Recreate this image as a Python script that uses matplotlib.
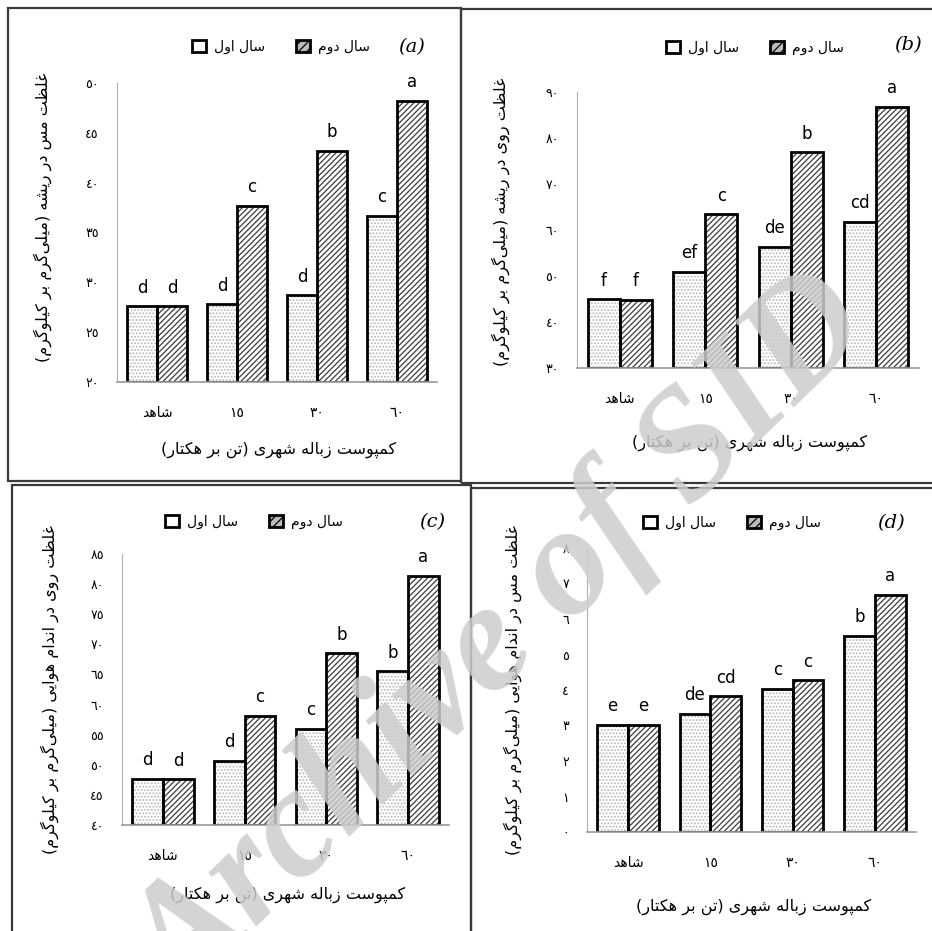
import numpy as np
import matplotlib
matplotlib.use("Agg")
import matplotlib.pyplot as plt
from matplotlib.patches import Rectangle, Patch
from matplotlib.ticker import FuncFormatter

# ============================================================
# data
# ============================================================
categories = ["شاهد", "١٥", "٣٠", "٦٠"]
series_names = ["سال اول", "سال دوم"]
xlabel = "کمپوست زباله شهری (تن بر هکتار)"

a_y1 = [27.6, 27.8, 28.7, 36.7]
a_y2 = [27.6, 37.7, 43.2, 48.2]
a_let1 = ["d", "d", "d", "c"]
a_let2 = ["d", "c", "b", "a"]
a_ylabel = "غلظت مس در ریشه (میلی\u200cگرم بر کیلوگرم)"
a_ticks = [20, 25, 30, 35, 40, 45, 50]

b_y1 = [44.9, 50.9, 56.3, 61.7]
b_y2 = [44.8, 63.4, 76.9, 86.7]
b_let1 = ["f", "ef", "de", "cd"]
b_let2 = ["f", "c", "b", "a"]
b_ylabel = "غلظت روی در ریشه (میلی\u200cگرم بر کیلوگرم)"
b_ticks = [30, 40, 50, 60, 70, 80, 90]

c_y1 = [47.7, 50.6, 56.0, 65.5]
c_y2 = [47.6, 58.1, 68.5, 81.4]
c_let1 = ["d", "d", "c", "b"]
c_let2 = ["d", "c", "b", "a"]
c_ylabel = "غلظت روی در اندام هوایی (میلی\u200cگرم بر کیلوگرم)"
c_ticks = [40, 45, 50, 55, 60, 65, 70, 75, 80, 85]

d_y1 = [3.02, 3.32, 4.04, 5.53]
d_y2 = [3.01, 3.82, 4.27, 6.67]
d_let1 = ["e", "de", "c", "b"]
d_let2 = ["e", "cd", "c", "a"]
d_ylabel = "غلظت مس در اندام هوایی (میلی\u200cگرم بر کیلوگرم)"
d_ticks = [0, 1, 2, 3, 4, 5, 6, 7, 8]

# ============================================================
# simple arabic shaping (matplotlib has no complex text layout)
# ============================================================
FORMS = {
    "\u0627": ("\uFE8D", "\uFE8E", None, None),
    "\u062F": ("\uFEA9", "\uFEAA", None, None),
    "\u0631": ("\uFEAD", "\uFEAE", None, None),
    "\u0632": ("\uFEAF", "\uFEB0", None, None),
    "\u0648": ("\uFEED", "\uFEEE", None, None),
    "\u0628": ("\uFE8F", "\uFE90", "\uFE91", "\uFE92"),
    "\u067E": ("\uFB56", "\uFB57", "\uFB58", "\uFB59"),
    "\u062A": ("\uFE95", "\uFE96", "\uFE97", "\uFE98"),
    "\u0633": ("\uFEB1", "\uFEB2", "\uFEB3", "\uFEB4"),
    "\u0634": ("\uFEB5", "\uFEB6", "\uFEB7", "\uFEB8"),
    "\u0638": ("\uFEC5", "\uFEC6", "\uFEC7", "\uFEC8"),
    "\u063A": ("\uFECD", "\uFECE", "\uFECF", "\uFED0"),
    "\u0644": ("\uFEDD", "\uFEDE", "\uFEDF", "\uFEE0"),
    "\u0645": ("\uFEE1", "\uFEE2", "\uFEE3", "\uFEE4"),
    "\u0646": ("\uFEE5", "\uFEE6", "\uFEE7", "\uFEE8"),
    "\u0647": ("\uFEE9", "\uFEEA", "\uFEEB", "\uFEEC"),
    "\u06CC": ("\uFBFC", "\uFBFD", "\uFBFE", "\uFBFF"),
    "\u06A9": ("\uFB8E", "\uFB8F", "\uFB90", "\uFB91"),
    "\u06AF": ("\uFB92", "\uFB93", "\uFB94", "\uFB95"),
}


def fa(s):
    if not any(ch in FORMS for ch in s):
        return s
    out = []
    for i, ch in enumerate(s):
        if ch == "\u200c":
            continue
        if ch not in FORMS:
            out.append(ch)
            continue
        f = FORMS[ch]
        prev = s[i - 1] if i > 0 else ""
        nxt = s[i + 1] if i + 1 < len(s) else ""
        jp = prev in FORMS and FORMS[prev][2] is not None
        jn = f[2] is not None and nxt in FORMS
        if jp and jn:
            out.append(f[3])
        elif jp:
            out.append(f[1])
        elif jn:
            out.append(f[2])
        else:
            out.append(f[0])
    vis = "".join(reversed(out))
    return vis.translate(str.maketrans("()", ")("))


def ar_digits(v, pos=None):
    return str(int(v)).translate(str.maketrans("0123456789", "٠١٢٣٤٥٦٧٨٩"))


# ============================================================
# figure
# ============================================================
W, H = 932, 931
fig = plt.figure(figsize=(W / 100, H / 100), dpi=100)
plt.rcParams["hatch.linewidth"] = 0.9


def fx(x):
    return x / W


def fy(y):
    return 1 - y / H


# panel frames (pixel boxes)
for x0, y0, x1, y1 in [(8, 8, 461, 481), (461, 9, 945, 483),
                       (12, 485, 471, 945), (471, 488, 945, 945)]:
    fig.add_artist(Rectangle((fx(x0), fy(y1)), fx(x1 - x0), (y1 - y0) / H,
                             transform=fig.transFigure, fill=False,
                             edgecolor="#3a3a3a", linewidth=1.6))

panels = [
    # y1, y2, letters1, letters2, ylabel, ticks, axes box, ylab pos, legend pos, tag, tag pos, xlab y
    (a_y1, a_y2, a_let1, a_let2, a_ylabel, a_ticks, (117, 83, 437, 382), (43, 217), (281, 47), "(a)", (412, 47), 450),
    (b_y1, b_y2, b_let1, b_let2, b_ylabel, b_ticks, (577, 92, 919, 368), (501, 222), (755, 48), "(b)", (908, 45), 443),
    (c_y1, c_y2, c_let1, c_let2, c_ylabel, c_ticks, (122, 554, 449, 825), (50, 690), (254, 522), "(c)", (432, 522), 895),
    (d_y1, d_y2, d_let1, d_let2, d_ylabel, d_ticks, (587, 548, 916, 832), (513, 690), (732, 523), "(d)", (891, 523), 907),
]

x = np.arange(len(categories))
w = 0.375

for y1, y2, l1, l2, ylab, ticks, box, ylpos, lgpos, tag, tagpos, xly in panels:
    L, T, R, B = box
    ax = fig.add_axes([fx(L), fy(B), fx(R - L), (B - T) / H])
    base = ticks[0]

    # fills (hatch colour = edgecolor), then black outlines
    ax.bar(x - w / 2, np.array(y1) - base, w, bottom=base, color="white",
           edgecolor="#b8b8b8", hatch=".....", linewidth=0)
    ax.bar(x + w / 2, np.array(y2) - base, w, bottom=base, color="white",
           edgecolor="#3c3c3c", hatch="//////", linewidth=0)
    ax.bar(x - w / 2, np.array(y1) - base, w, bottom=base, fill=False,
           edgecolor="black", linewidth=2)
    ax.bar(x + w / 2, np.array(y2) - base, w, bottom=base, fill=False,
           edgecolor="black", linewidth=2)

    for xi, v, t in zip(x - w / 2, y1, l1):
        ax.annotate(t, (xi, v), xytext=(0, 7), textcoords="offset points",
                    ha="center", va="bottom", fontsize=12)
    for xi, v, t in zip(x + w / 2, y2, l2):
        ax.annotate(t, (xi, v), xytext=(0, 7), textcoords="offset points",
                    ha="center", va="bottom", fontsize=12)

    ax.set_xlim(-0.5, 3.5)
    ax.set_ylim(ticks[0], ticks[-1])
    ax.set_yticks(ticks)
    ax.yaxis.set_major_formatter(FuncFormatter(ar_digits))
    ax.set_xticks(x)
    ax.set_xticklabels([fa(c) for c in categories], fontsize=10)
    ax.tick_params(axis="y", length=0, pad=13, labelsize=9)
    ax.tick_params(axis="x", length=0, pad=17)
    for s in ["top", "right"]:
        ax.spines[s].set_visible(False)
    ax.spines["left"].set_color("#b0b0b0")
    ax.spines["bottom"].set_color("#9a9a9a")
    ax.spines["bottom"].set_linewidth(1.2)

    fig.text(fx((L + R) / 2 + 2), fy(xly), fa(xlabel), ha="center", va="center", fontsize=11.5)
    fig.text(fx(ylpos[0]), fy(ylpos[1]), fa(ylab), rotation=90, ha="center",
             va="center", fontsize=11.5)
    fig.text(fx(tagpos[0]), fy(tagpos[1]), tag, ha="center", va="center",
             fontsize=14, family="DejaVu Serif", style="italic")

    handles = [Patch(facecolor="white", edgecolor="black", linewidth=2),
               Patch(facecolor="#bbbbbb", edgecolor="black", linewidth=2, hatch="////")]
    ax.legend(handles, [fa(n) for n in series_names], ncol=2, frameon=False,
              loc="center", bbox_to_anchor=(fx(lgpos[0]), fy(lgpos[1])),
              bbox_transform=fig.transFigure, fontsize=10, handlelength=1.0,
              handleheight=1.0, handletextpad=0.6, columnspacing=2.2)

# watermark of the source archive
fig.text(0.54, 0.31, "Archive of SID", rotation=44, ha="center", va="center",
         fontsize=112, family="Liberation Serif", style="italic", weight="bold",
         color="#cdcdcd", alpha=0.85, zorder=50)

fig.savefig("out.png", dpi=100)
